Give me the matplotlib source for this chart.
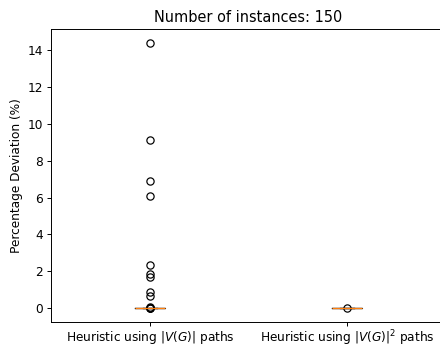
import numpy as np
import matplotlib
matplotlib.use("Agg")
import matplotlib.pyplot as plt

###
# DATA
###
n_instances = 150

# nonzero deviations (%) for each heuristic; the rest are 0
dev_linear_nonzero = [14.4, 9.1, 6.9, 6.1, 2.33, 1.88, 1.71, 0.9, 0.66, 0.06, 0.04, 0.03, 0.02]
dev_square_nonzero = [0.02]

labels = ["Heuristic using $|V(G)|$ paths", "Heuristic using $|V(G)|^2$ paths"]

# the reference looks like a default-styled figure rendered at a lower dpi
DPI = 87


def pad_zeros(vals, n):
    # remaining instances hit the optimum exactly
    return np.array(list(vals) + [0.0] * (n - len(vals)))


def main():
    data = [pad_zeros(dev_linear_nonzero, n_instances),
            pad_zeros(dev_square_nonzero, n_instances)]

    fig = plt.figure(figsize=(440 / DPI, 345 / DPI), dpi=DPI)
    # right edge of the axes runs just past the image, as in the reference
    ax = fig.add_axes([0.117, 0.068, 0.8955, 0.847])

    ax.boxplot(data, widths=0.15)
    ax.set_xticks([1, 2])
    ax.set_xticklabels(labels)
    ax.tick_params(axis="x", pad=2.5)
    ax.set_ylabel("Percentage Deviation (%)")
    ax.set_title("Number of instances: " + str(n_instances))

    fig.savefig("out.png", dpi=DPI)


if __name__ == "__main__":
    main()
